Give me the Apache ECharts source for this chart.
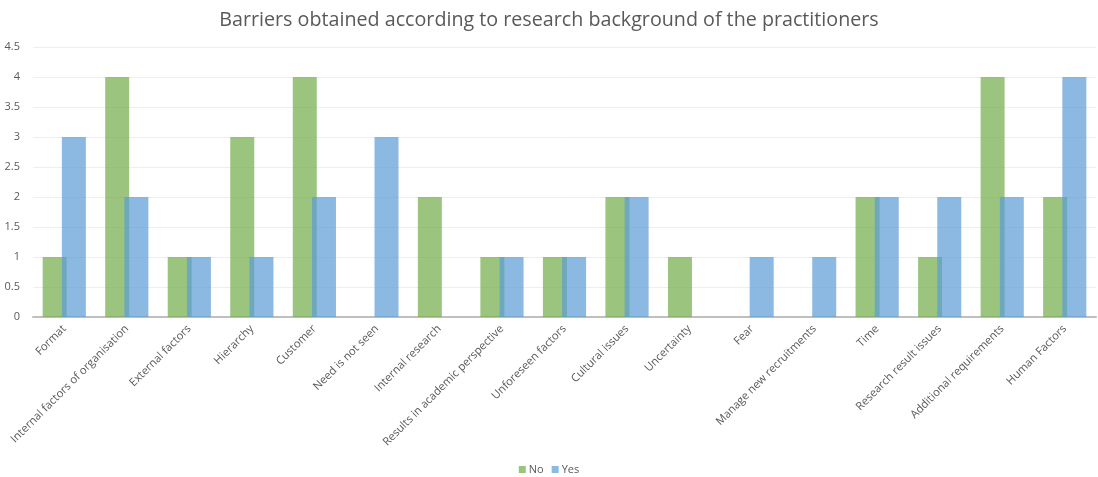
<!DOCTYPE html>
<html>
<head>
<meta charset="utf-8">
<script src="https://cdn.jsdelivr.net/npm/echarts@6/dist/echarts.min.js"></script>
<style>
  html, body { margin: 0; padding: 0; background: #fff; }
  #chart { width: 1098px; height: 477px; }
</style>
</head>
<body>
<div id="chart"></div>
<script>
var categories = [
  'Format', 'Internal factors of organisation', 'External factors', 'Hierarchy',
  'Customer', 'Need is not seen', 'Internal research', 'Results in academic perspective',
  'Unforeseen factors', 'Cultural issues', 'Uncertainty', 'Fear',
  'Manage new recruitments', 'Time', 'Research result issues',
  'Additional requirements', 'Human Factors'
];
var noValues = [1, 4, 1, 3, 4, 0, 2, 1, 1, 2, 1, 0, 0, 2, 1, 4, 2];
var yesValues = [3, 2, 1, 1, 2, 3, 0, 1, 1, 2, 0, 1, 1, 2, 2, 2, 4];
var seriesNames = ['No', 'Yes'];

var chart = echarts.init(document.getElementById('chart'));
var txt = '#595959';
chart.setOption({
  animation: false,
  textStyle: { fontFamily: 'Open Sans' },
  title: {
    text: 'Barriers obtained according to research background of the practitioners',
    left: 'center',
    top: 5,
    textStyle: { fontSize: 19.7, fontWeight: 'normal', color: txt, fontFamily: 'Open Sans' }
  },
  legend: {
    bottom: -3,
    left: 'center',
    itemWidth: 7,
    itemHeight: 7,
    itemGap: 8,
    icon: 'rect',
    textStyle: { fontSize: 11, color: txt, padding: [0, 0, 0, -2] },
    data: seriesNames
  },
  grid: { left: 33, right: 2, top: 47, bottom: 160, containLabel: false },
  xAxis: {
    type: 'category',
    data: categories,
    axisLine: { lineStyle: { color: '#bfbfbf', width: 2 } },
    axisTick: { show: false },
    axisLabel: { rotate: 45, fontSize: 11.2, color: txt, interval: 0, margin: 10 }
  },
  yAxis: {
    type: 'value',
    min: 0,
    max: 4.5,
    interval: 0.5,
    axisLine: { show: false },
    axisTick: { show: false },
    axisLabel: { fontSize: 11, color: txt, margin: 13 },
    splitLine: { lineStyle: { color: '#eeeeee' } }
  },
  series: [
    {
      name: seriesNames[0],
      type: 'bar',
      data: noValues,
      barWidth: 24,
      barGap: '-20%',
      itemStyle: { color: '#70AD47', opacity: 0.7 }
    },
    {
      name: seriesNames[1],
      type: 'bar',
      data: yesValues,
      barWidth: 24,
      barGap: '-20%',
      itemStyle: { color: '#5B9BD5', opacity: 0.7 }
    }
  ]
});
</script>
</body>
</html>
